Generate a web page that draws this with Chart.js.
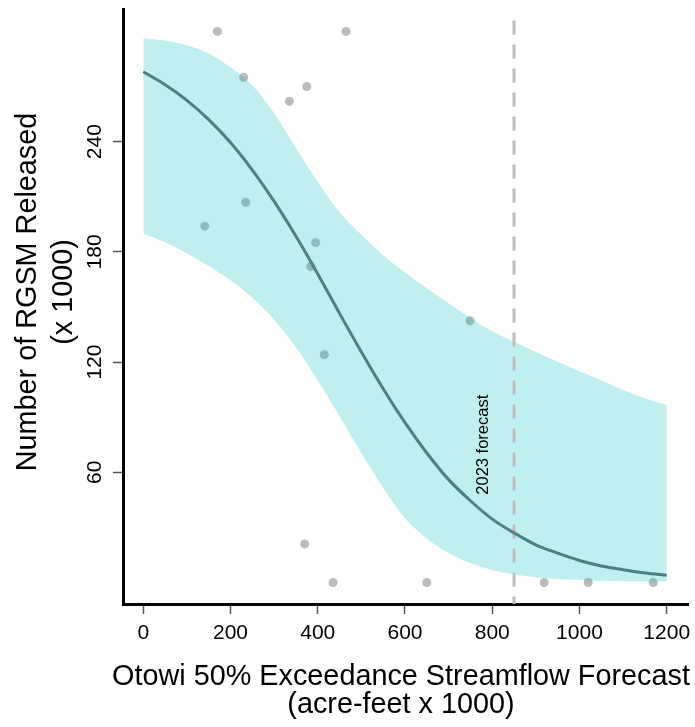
<!DOCTYPE html>
<html><head><meta charset="utf-8">
<script src="https://cdn.jsdelivr.net/npm/chart.js@4.4.1/dist/chart.umd.min.js"></script>
<style>html,body{margin:0;padding:0;background:#fff;overflow:hidden}canvas{display:block}</style>
</head><body>
<canvas id="c" width="695" height="727"></canvas>
<script>
// Observed data points (streamflow forecast, RGSM released x1000)
const flowX     = [141, 170, 230, 235, 335, 370, 375, 384, 395, 415, 435, 465, 650, 749, 919, 1020, 1169];
const releasedY = [194, 300, 275, 207, 262,  21, 270, 172, 185, 124,   0, 300,   0, 142.5, 0,   0,    0];

// Fitted curve and confidence band
const curveX = [0, 50, 100, 150, 200, 250, 300, 350, 400, 450, 500, 550, 600, 650, 700, 750, 800, 850, 900, 950, 1000, 1050, 1100, 1150, 1200];
const fitY   = [278, 271, 262.5, 252, 239.5, 224.5, 207.5, 188.5, 168, 146.5, 125.5, 105.5, 87, 70.5, 56, 44.5, 34.5, 27, 20.5, 16, 12, 9, 7, 5.2, 4];
const upperY = [296.3, 295, 292.5, 288, 280.5, 270.5, 255.5, 236.5, 218, 201.5, 189.3, 178.2, 168.7, 160.2, 152, 144, 136.8, 131.1, 125.5, 120.2, 115, 110, 104.8, 100.3, 96.6];
const lowerY = [190, 185.2, 179.2, 172.2, 164.5, 155, 143, 128, 110, 90.5, 70.5, 51.5, 35, 24, 16, 10.5, 6.8, 4.3, 2.8, 1.9, 1.3, 0.9, 0.7, 0.6, 0.5];

const xTicks = [0, 200, 400, 600, 800, 1000, 1200];
const yTicks = [60, 120, 180, 240];

const forecastX = 850;
const forecastTop = 306;
const forecastLabel = '2023 forecast';

const xTitle = ['Otowi 50% Exceedance Streamflow Forecast', '(acre-feet x 1000)'];
const yTitle = ['Number of RGSM Released', '(x 1000)'];

const X_MIN = -46.5, X_MAX = 1248.8, Y_MIN = -11.7, Y_MAX = 312.2;
const FONT = "'Liberation Sans', Arial, Helvetica, sans-serif";

const xy = (xs, ys) => xs.map((x, i) => ({x: x, y: ys[i]}));

const overlay = {
  id: 'overlay',
  afterDraw(chart) {
    const ctx = chart.ctx;
    const sx = chart.scales.x, sy = chart.scales.y;
    ctx.save();
    ctx.fillStyle = '#000';
    ctx.textAlign = 'center';
    ctx.textBaseline = 'alphabetic';
    ctx.font = '28.8px ' + FONT;
    // x-axis title (two lines)
    ctx.fillText(xTitle[0], 401, 685);
    ctx.fillText(xTitle[1], 401, 713);
    // y-axis title (two lines, rotated)
    const cy = 292;
    [36, 72].forEach((bx, i) => {
      ctx.save(); ctx.translate(bx, cy); ctx.rotate(-Math.PI / 2);
      ctx.fillText(yTitle[i], 0, 0); ctx.restore();
    });
    // forecast label
    ctx.font = '16.5px ' + FONT;
    ctx.save();
    ctx.translate(sx.getPixelForValue(790), sy.getPixelForValue(75));
    ctx.rotate(-Math.PI / 2);
    ctx.fillText(forecastLabel, 0, 0);
    ctx.restore();
    ctx.restore();
  }
};

new Chart(document.getElementById('c'), {
  type: 'line',
  data: {
    datasets: [
      { type: 'scatter', label: 'Observed', data: xy(flowX, releasedY),
        backgroundColor: '#bbbbbb', borderColor: '#bbbbbb', borderWidth: 0,
        pointRadius: 4.5, order: 5 },
      { label: 'Upper', data: xy(curveX, upperY), borderColor: 'transparent', borderWidth: 0,
        pointRadius: 0, fill: '+1', backgroundColor: 'rgba(0,190,190,0.25)',
        cubicInterpolationMode: 'monotone', order: 4 },
      { label: 'Lower', data: xy(curveX, lowerY), borderColor: 'transparent', borderWidth: 0,
        pointRadius: 0, fill: false, cubicInterpolationMode: 'monotone', order: 3 },
      { label: 'Forecast', data: [{x: forecastX, y: forecastTop}, {x: forecastX, y: Y_MIN}],
        borderColor: '#bdbdbd', borderWidth: 3, borderDash: [14, 10], pointRadius: 0,
        fill: false, order: 2 },
      { label: 'Fit', data: xy(curveX, fitY), borderColor: '#4d8080', borderWidth: 3,
        pointRadius: 0, fill: false, cubicInterpolationMode: 'monotone', order: 1 }
    ]
  },
  options: {
    responsive: false,
    devicePixelRatio: 1,
    animation: false,
    events: [],
    layout: { padding: { top: 9, right: 7, bottom: 0, left: 0 } },
    plugins: { legend: { display: false }, tooltip: { enabled: false } },
    scales: {
      x: {
        type: 'linear', min: X_MIN, max: X_MAX,
        afterBuildTicks: s => { s.ticks = xTicks.map(v => ({value: v})); },
        afterFit: s => { s.height = 123; s.paddingLeft = 0; s.paddingRight = 0; },
        grid: { drawOnChartArea: false, drawTicks: true, tickLength: 10, tickColor: '#555', tickWidth: 1.5 },
        border: { display: true, color: '#000', width: 3 },
        ticks: { font: { family: FONT, size: 21 }, color: '#000', padding: 7,
                 minRotation: 0, maxRotation: 0, autoSkip: false, callback: v => String(v) },
        title: { display: false }
      },
      y: {
        type: 'linear', min: Y_MIN, max: Y_MAX,
        afterBuildTicks: s => { s.ticks = yTicks.map(v => ({value: v})); },
        afterFit: s => { s.width = 123; s.paddingTop = 0; s.paddingBottom = 0; },
        grid: { drawOnChartArea: false, drawTicks: true, tickLength: 10, tickColor: '#555', tickWidth: 1.5 },
        border: { display: true, color: '#000', width: 3 },
        ticks: { font: { family: FONT, size: 21 }, color: '#000', padding: 0,
                 minRotation: 90, maxRotation: 90, crossAlign: 'center', autoSkip: false,
                 callback: v => String(v) },
        title: { display: false }
      }
    }
  },
  plugins: [overlay]
});
</script>
</body></html>
